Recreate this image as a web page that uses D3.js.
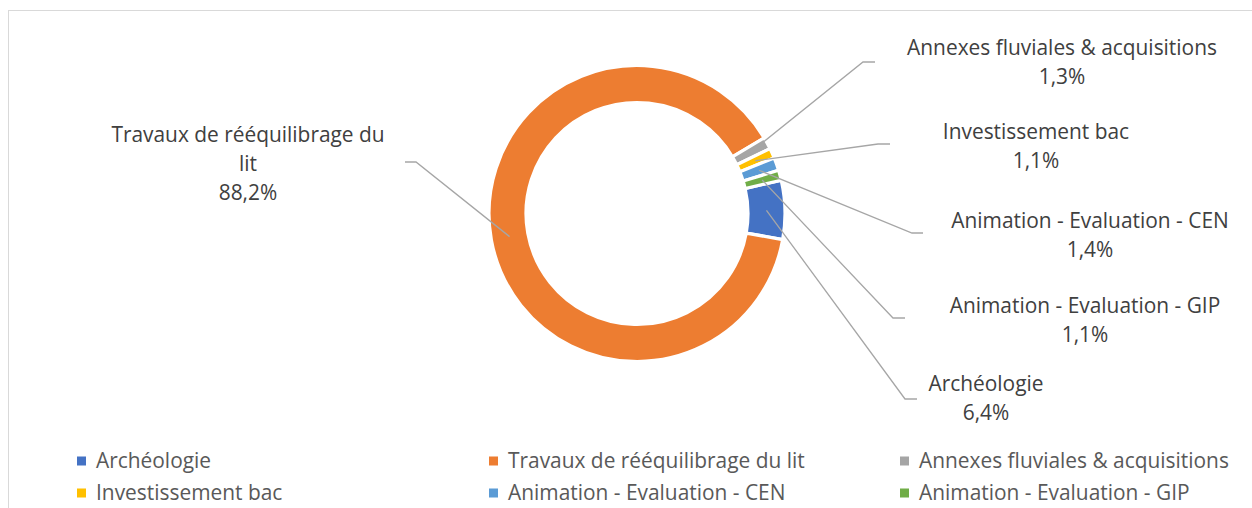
<!DOCTYPE html>
<html>
<head>
<meta charset="utf-8">
<script src="https://cdn.jsdelivr.net/npm/d3@7"></script>
<style>
  html, body { margin: 0; padding: 0; background: #fff; }
  svg { display: block; }
</style>
</head>
<body>
<svg id="chart" width="1252" height="508"></svg>
<script>
// ---- data ----
const categories = [
  "Archéologie",
  "Travaux de rééquilibrage du lit",
  "Annexes fluviales & acquisitions",
  "Investissement bac",
  "Animation - Evaluation - CEN",
  "Animation - Evaluation - GIP"
];
const values = [6.4, 88.2, 1.3, 1.1, 1.4, 1.1];
const colors = ["#4472C4", "#ED7D31", "#A5A5A5", "#FFC000", "#5B9BD5", "#70AD47"];

// ---- layout (label boxes & leader elbows, legend grid) ----
const labelLayout = [
  { cx: 986,  cy: 384, wrap: 400, ex: 905, ey: 399, hx: 917 },
  { cx: 248,  cy: 135, wrap: 285, ex: 416, ey: 162, hx: 405 },
  { cx: 1062, cy: 48,  wrap: 400, ex: 863, ey: 62,  hx: 875 },
  { cx: 1036, cy: 132, wrap: 400, ex: 878, ey: 144, hx: 890 },
  { cx: 1090, cy: 221, wrap: 400, ex: 912, ey: 233, hx: 923 },
  { cx: 1085, cy: 306, wrap: 400, ex: 893, ey: 318, hx: 905 }
];
const legendCols = [77, 489, 900];
const legendRows = [461, 493];

const svg = d3.select("#chart");
const fontFamily = "'Open Sans', 'Noto Sans', sans-serif";

// chart area border
svg.append("rect")
  .attr("x", 8.5).attr("y", 10.5)
  .attr("width", 1400).attr("height", 700)
  .attr("fill", "#fff").attr("stroke", "#d9d9d9").attr("stroke-width", 1);

// fit font size: reference string measures ~310px
const probe = svg.append("text").attr("font-family", fontFamily).attr("font-size", 20)
  .text("Annexes fluviales & acquisitions");
const fontSize = 20 * 310 / probe.node().getComputedTextLength();
probe.remove();

const cx = 637, cy = 213.5, outerR = 148, innerR = 111;
const pie = d3.pie().sort(null).value(d => d)
  .startAngle(77 * Math.PI / 180).endAngle(77 * Math.PI / 180 + 2 * Math.PI);
const arcs = pie(values);
const arc = d3.arc().innerRadius(innerR).outerRadius(outerR);
const midArc = d3.arc().innerRadius((innerR + outerR) / 2).outerRadius((innerR + outerR) / 2);

const g = svg.append("g").attr("transform", `translate(${cx},${cy})`);
g.selectAll("path.slice").data(arcs).enter().append("path")
  .attr("class", "slice")
  .attr("d", arc)
  .attr("fill", (d, i) => colors[i])
  .attr("stroke", "#fff").attr("stroke-width", 3.2).attr("stroke-linejoin", "miter");

// leader lines
const fmt = d3.formatLocale({ decimal: ",", thousands: " ", grouping: [3], currency: ["", "€"] }).format(".1f");
arcs.forEach((d, i) => {
  const L = labelLayout[i];
  const c = midArc.centroid(d);
  const p0 = [cx + c[0], cy + c[1]];
  svg.append("polyline")
    .attr("points", [p0, [L.ex, L.ey], [L.hx, L.ey]].map(p => p.join(",")).join(" "))
    .attr("fill", "none").attr("stroke", "#a6a6a6").attr("stroke-width", 1.3);
});

// data labels with word wrapping
function wrapWords(text, maxW) {
  const t = svg.append("text").attr("font-family", fontFamily).attr("font-size", fontSize);
  const words = text.split(" ");
  const lines = [];
  let cur = "";
  words.forEach(w => {
    const test = cur ? cur + " " + w : w;
    t.text(test);
    if (t.node().getComputedTextLength() > maxW && cur) { lines.push(cur); cur = w; }
    else cur = test;
  });
  if (cur) lines.push(cur);
  t.remove();
  return lines;
}
const lineH = 29;
categories.forEach((name, i) => {
  const L = labelLayout[i];
  const lines = wrapWords(name, L.wrap).concat([fmt(values[i]) + "%"]);
  const t = svg.append("text")
    .attr("font-family", fontFamily).attr("font-size", fontSize)
    .attr("fill", "#404040").attr("text-anchor", "middle");
  lines.forEach((ln, k) => {
    t.append("tspan").attr("x", L.cx).attr("y", L.cy + k * lineH).attr("dy", "0.35em").text(ln);
  });
});

// legend
categories.forEach((name, i) => {
  const x = legendCols[i % 3], y = legendRows[Math.floor(i / 3)];
  svg.append("rect").attr("x", x).attr("y", y - 4.5).attr("width", 9).attr("height", 9)
    .attr("fill", colors[i]);
  svg.append("text").attr("x", x + 19).attr("y", y).attr("dy", "0.35em")
    .attr("font-family", fontFamily).attr("font-size", fontSize)
    .attr("fill", "#595959").text(name);
});
</script>
</body>
</html>
